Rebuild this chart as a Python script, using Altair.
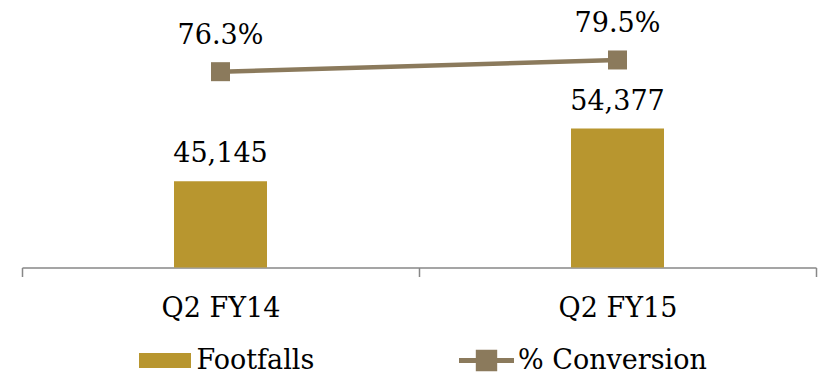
import altair as alt
import pandas as pd

# ---- data ----
categories = ["Q2 FY14", "Q2 FY15"]
footfalls = [45145, 54377]
conversion = [0.763, 0.795]
series_names = ["Footfalls", "% Conversion"]

FONT = "DejaVu Serif"
FS = 27
GOLD = "#B8962F"
BROWN = "#8B7A5C"
AXIS_GRAY = "#878787"

df_bar = pd.DataFrame({"quarter": categories, "value": footfalls, "series": series_names[0]})
df_line = pd.DataFrame({"quarter": categories, "value": conversion, "series": series_names[1]})

x_enc = alt.X(
    "quarter:N",
    sort=categories,
    title=None,
    scale=alt.Scale(paddingInner=0, paddingOuter=0),
    axis=alt.Axis(
        labelAngle=0,
        tickBand="extent",
        domainColor=AXIS_GRAY,
        tickColor=AXIS_GRAY,
        domainWidth=1.5,
        tickWidth=1.5,
        tickSize=9,
        labelFont=FONT,
        labelFontSize=FS,
        labelColor="black",
        labelBaseline="alphabetic",
        labelPadding=39.5,
        grid=False,
    ),
)

bar_y = alt.Y("value:Q", scale=alt.Scale(domain=[30000, 70000], zero=False), axis=None)
line_y = alt.Y("value:Q", scale=alt.Scale(domain=[0.2275, 0.851], zero=False), axis=None)

# legend symbol paths (box of 20px -> unit = 10px)
bar_path = "M-2.6,-0.75H2.6V0.75H-2.6Z"
line_path = "M-2.75,-0.24H2.75V0.24H-2.75Z M-1.07,-1.07H1.07V1.07H-1.07Z"

common_legend = dict(
    orient="none",
    direction="horizontal",
    title=None,
    labelFont=FONT,
    labelFontSize=FS,
    labelColor="black",
    labelLimit=400,
    labelOffset=18,
    symbolSize=400,
    symbolStrokeWidth=0,
    symbolOpacity=1,
)

fill_enc = alt.Fill(
    "series:N",
    scale=alt.Scale(domain=[series_names[0]], range=[GOLD]),
    legend=alt.Legend(legendX=129.5, legendY=307.5, symbolType=bar_path,
                      symbolFillColor=GOLD, **common_legend),
)
stroke_enc = alt.Stroke(
    "series:N",
    scale=alt.Scale(domain=[series_names[1]], range=[BROWN]),
    legend=alt.Legend(legendX=451, legendY=307.5, symbolType=line_path,
                      symbolFillColor=BROWN, **common_legend),
)

bars = alt.Chart(df_bar).mark_bar(size=93, clip=True).encode(x=x_enc, y=bar_y, fill=fill_enc)
bar_text = alt.Chart(df_bar).mark_text(
    font=FONT, fontSize=FS, color="black", baseline="alphabetic", dy=-19
).encode(x=x_enc, y=bar_y, text=alt.Text("value:Q", format=",d"))

line = alt.Chart(df_line).mark_line(strokeWidth=4.5).encode(x=x_enc, y=line_y, stroke=stroke_enc)
points = alt.Chart(df_line).mark_point(
    shape="square", filled=True, size=361, opacity=1, color=BROWN
).encode(x=x_enc, y=line_y)
line_text = alt.Chart(df_line).mark_text(
    font=FONT, fontSize=FS, color="black", baseline="alphabetic", dy=-27.5
).encode(x=x_enc, y=line_y, text=alt.Text("value:Q", format=".1%"))

bar_layer = alt.layer(bars, bar_text)
line_layer = alt.layer(line, points, line_text)

chart = (
    alt.layer(bar_layer, line_layer)
    .resolve_scale(y="independent")
    .properties(
        width=794,
        height=228,
        background="white",
        autosize=alt.AutoSizeParams(type="none"),
        padding={"left": 22, "top": 39.5, "right": 7, "bottom": 104.5},
    )
    .configure_view(strokeWidth=0, stroke=None)
    .configure_text(font=FONT)
    .configure_legend(labelFont=FONT)
    .configure_axis(labelFont=FONT)
)

chart.save("out.html", embed_options={"renderer": "svg", "actions": False})
